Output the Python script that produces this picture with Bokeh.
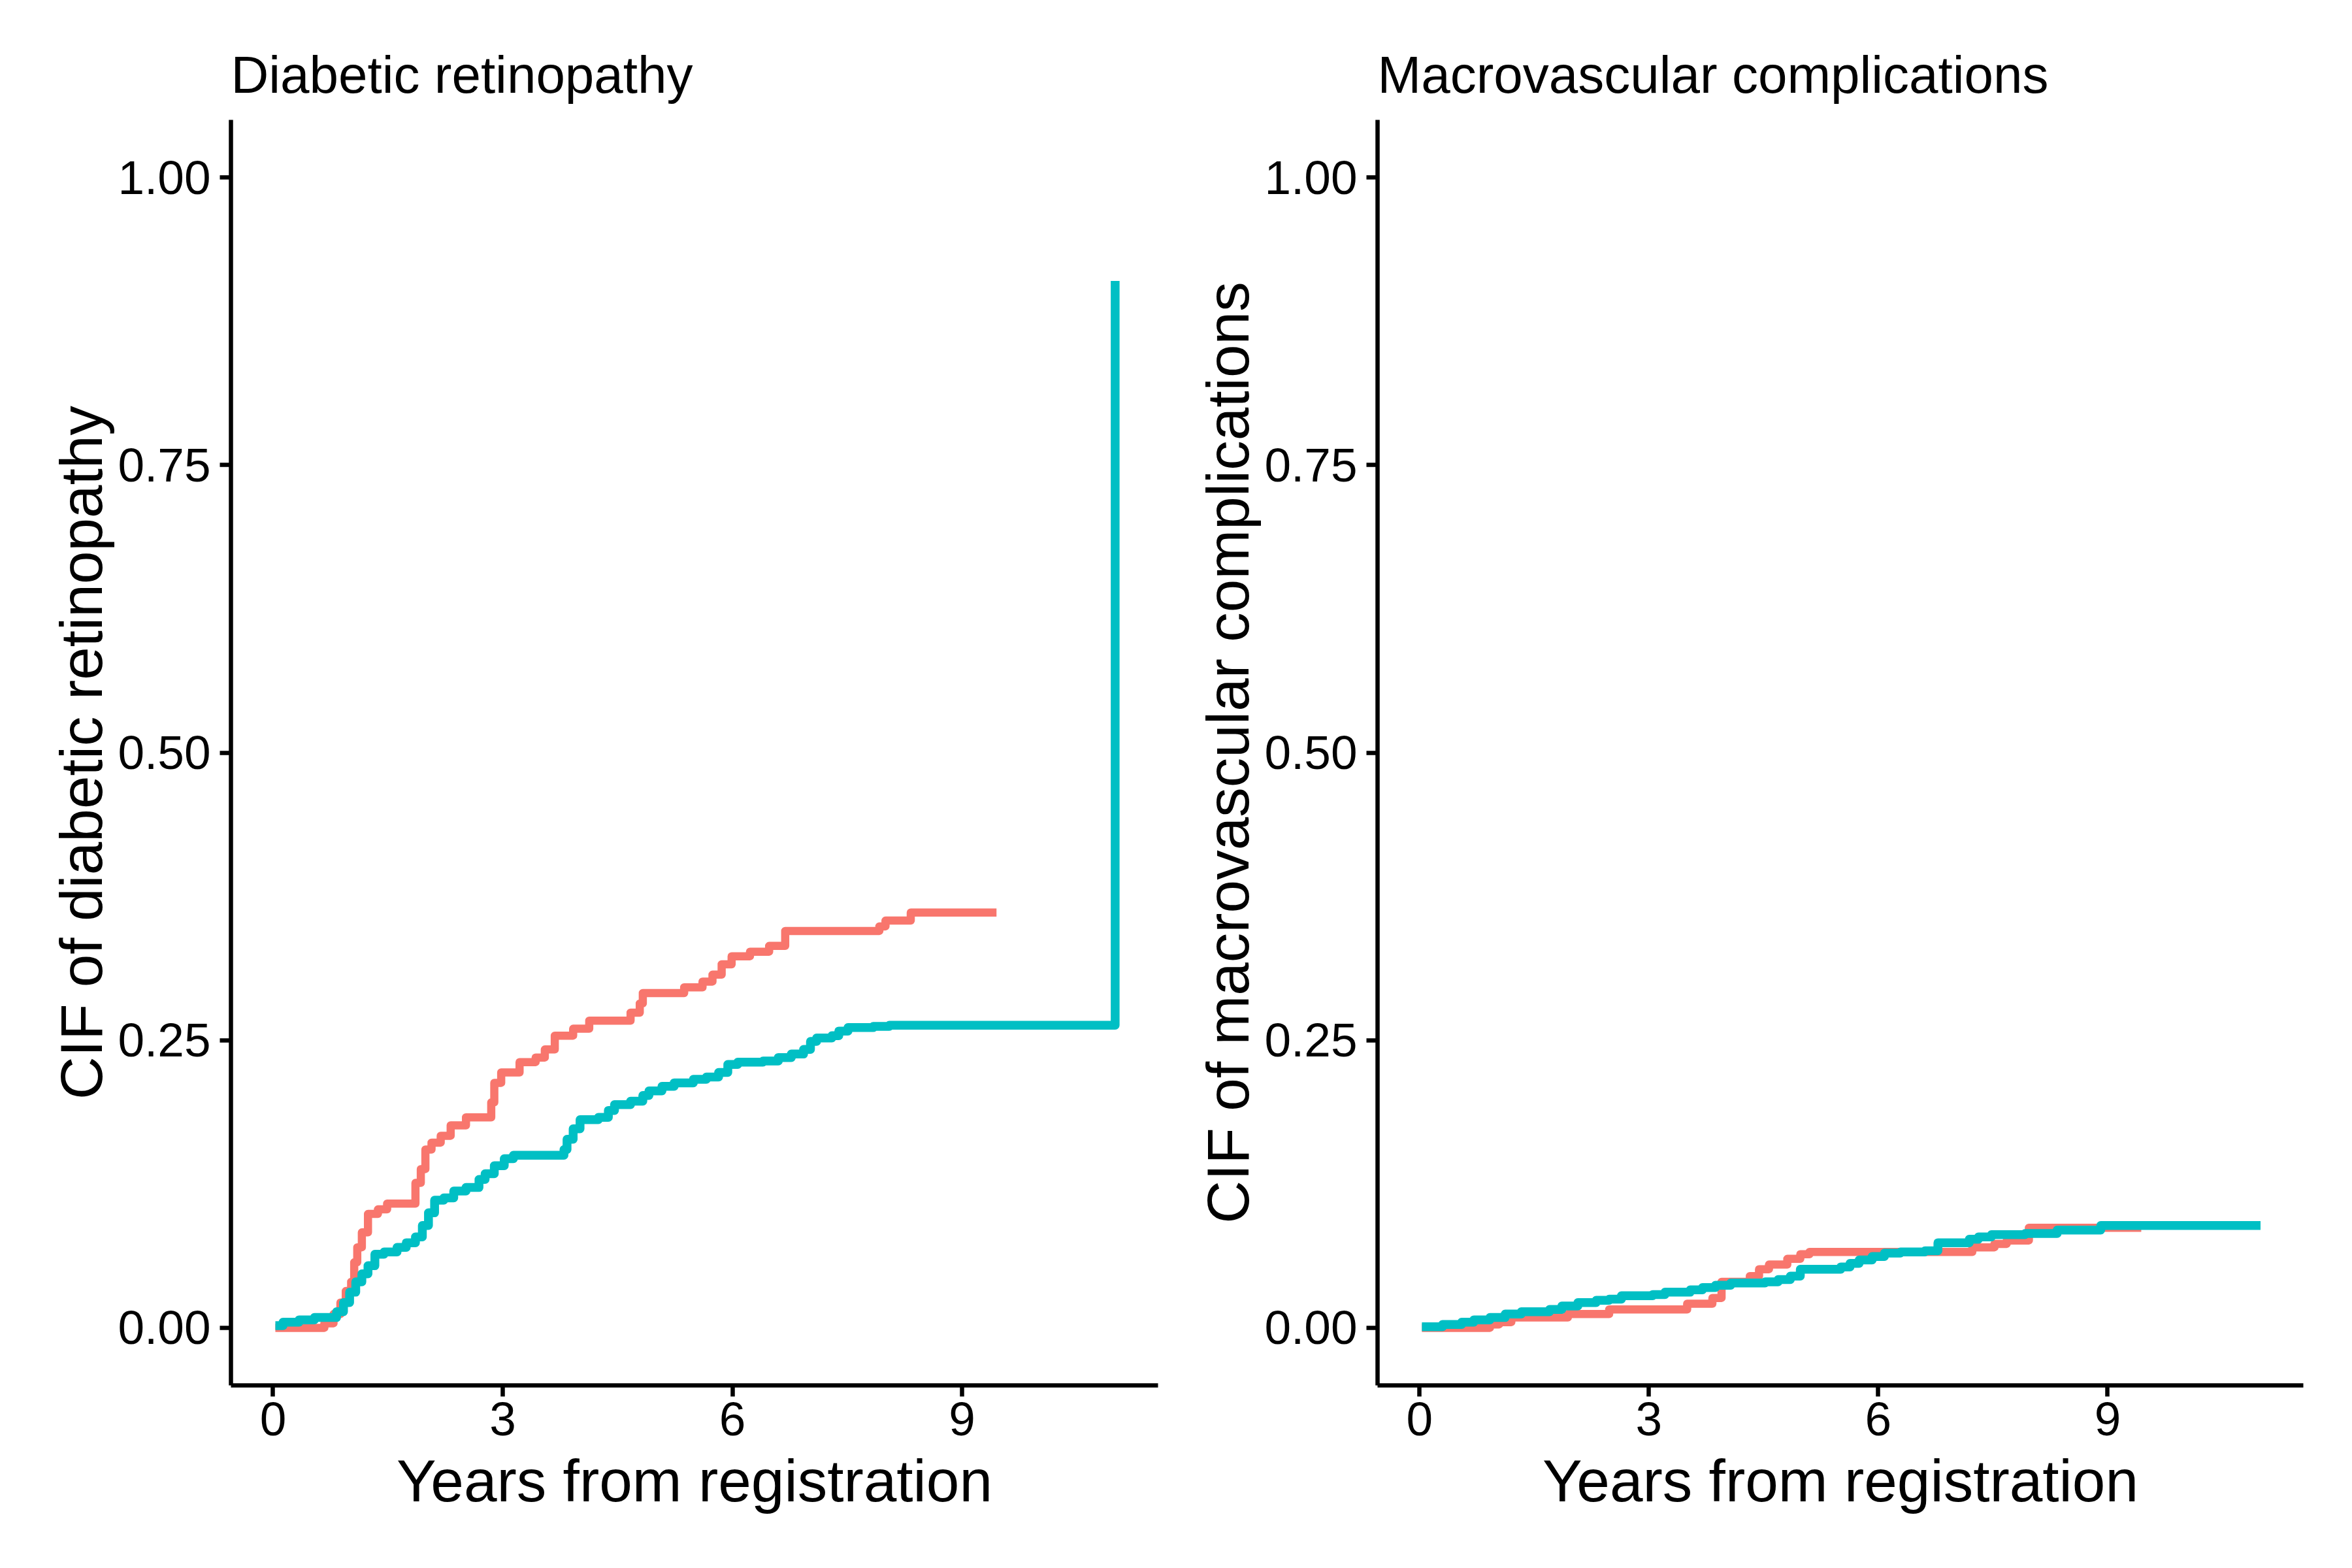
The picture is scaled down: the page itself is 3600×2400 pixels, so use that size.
from bokeh.plotting import figure
from bokeh.layouts import row
from bokeh.models import Range1d, FixedTicker, NumeralTickFormatter
from bokeh.embed import file_html
from bokeh.resources import INLINE

# ---------------- data ----------------
panel_titles = ["Diabetic retinopathy", "Macrovascular complications"]
y_titles = ["CIF of diabetic retinopathy", "CIF of macrovascular complications"]
x_title = "Years from registration"
x_ticks = [0, 3, 6, 9]
y_ticks = [0.0, 0.25, 0.5, 0.75, 1.0]
group_colors = ["#F8766D", "#00BFC4"]

# Diabetic retinopathy, group 1 (red)
dr_red_t = [0.03, 0.67, 0.79, 0.88, 0.95, 1.02, 1.06, 1.10, 1.16, 1.24,
            1.37, 1.49, 1.86, 1.93, 1.99, 2.07, 2.19, 2.32, 2.52, 2.85,
            2.89, 2.98, 3.22, 3.43, 3.55, 3.68, 3.92, 4.13, 4.67, 4.79,
            4.83, 5.37, 5.61, 5.74, 5.86, 5.99, 6.23, 6.48, 6.69, 7.92,
            8.00, 8.33, 9.45]
dr_red_y = [0.000, 0.004, 0.012, 0.022, 0.032, 0.040, 0.057, 0.070, 0.083, 0.099,
            0.103, 0.108, 0.126, 0.138, 0.155, 0.161, 0.167, 0.176, 0.183, 0.196,
            0.213, 0.222, 0.231, 0.235, 0.242, 0.254, 0.260, 0.267, 0.274, 0.282,
            0.291, 0.296, 0.301, 0.307, 0.316, 0.323, 0.327, 0.332, 0.345, 0.349,
            0.354, 0.361, 0.361]

# Diabetic retinopathy, group 2 (teal)
dr_teal_t = [0.03, 0.13, 0.34, 0.54, 0.83, 0.92, 1.00, 1.08, 1.16, 1.24,
             1.33, 1.45, 1.62, 1.74, 1.86, 1.95, 2.03, 2.11, 2.23, 2.36,
             2.52, 2.69, 2.77, 2.89, 3.02, 3.14, 3.80, 3.84, 3.92, 4.01,
             4.25, 4.38, 4.46, 4.67, 4.83, 4.91, 5.08, 5.24, 5.49, 5.66,
             5.82, 5.94, 6.07, 6.40, 6.60, 6.77, 6.93, 7.02, 7.10, 7.30,
             7.39, 7.51, 7.84, 8.05, 11.0]
dr_teal_y = [0.002, 0.005, 0.007, 0.009, 0.014, 0.022, 0.031, 0.040, 0.047, 0.054,
             0.064, 0.066, 0.070, 0.074, 0.079, 0.089, 0.100, 0.111, 0.113, 0.119,
             0.122, 0.129, 0.134, 0.141, 0.147, 0.150, 0.155, 0.164, 0.173, 0.181,
             0.183, 0.189, 0.194, 0.197, 0.202, 0.206, 0.210, 0.213, 0.216, 0.218,
             0.222, 0.229, 0.231, 0.232, 0.235, 0.238, 0.242, 0.249, 0.252, 0.254,
             0.258, 0.261, 0.262, 0.263, 0.910]

# Macrovascular complications, group 1 (red)
mv_red_t = [0.03, 0.92, 1.04, 1.20, 1.94, 2.48, 3.50, 3.83, 3.95, 4.32,
            4.44, 4.57, 4.81, 4.98, 5.10, 7.23, 7.52, 7.68, 7.97, 9.44]
mv_red_y = [0.000, 0.003, 0.005, 0.009, 0.012, 0.016, 0.021, 0.026, 0.040, 0.045,
            0.051, 0.055, 0.060, 0.064, 0.066, 0.070, 0.073, 0.076, 0.087, 0.087]

# Macrovascular complications, group 2 (teal)
mv_teal_t = [0.03, 0.30, 0.55, 0.71, 0.92, 1.12, 1.33, 1.70, 1.86, 2.07,
             2.31, 2.48, 2.64, 3.05, 3.21, 3.54, 3.70, 3.87, 4.07, 4.52,
             4.69, 4.85, 4.98, 5.51, 5.63, 5.75, 5.92, 6.08, 6.29, 6.61,
             6.78, 7.19, 7.31, 7.48, 7.92, 8.34, 8.91, 11.0]
mv_teal_y = [0.001, 0.003, 0.005, 0.007, 0.009, 0.012, 0.014, 0.016, 0.019, 0.022,
             0.024, 0.025, 0.028, 0.029, 0.031, 0.033, 0.035, 0.037, 0.039, 0.040,
             0.042, 0.045, 0.051, 0.053, 0.056, 0.059, 0.062, 0.065, 0.066, 0.067,
             0.074, 0.077, 0.079, 0.081, 0.082, 0.085, 0.089, 0.089]

FONT = "Liberation Sans"


def make_panel(title, ytitle, series, border_left, border_right):
    p = figure(width=1792, height=2384, output_backend="svg", toolbar_location=None,
               x_range=Range1d(-0.55, 11.56), y_range=Range1d(-0.05, 1.05),
               min_border_left=border_left, min_border_right=border_right,
               min_border_top=183, min_border_bottom=264)
    p.outline_line_color = None
    p.grid.visible = False
    p.background_fill_color = "white"
    p.border_fill_color = "white"

    p.title.text = title
    p.title.text_font = FONT
    p.title.text_font_size = "80px"
    p.title.text_font_style = "normal"
    p.title.text_color = "black"
    p.title.align = "left"
    p.title.standoff = 50

    for ax in (p.xaxis[0], p.yaxis[0]):
        ax.axis_line_color = "black"
        ax.axis_line_width = 6.5
        ax.major_tick_line_color = "black"
        ax.major_tick_line_width = 6.5
        ax.major_tick_out = 17
        ax.major_tick_in = 0
        ax.minor_tick_line_color = None
        ax.major_label_text_font = FONT
        ax.major_label_text_font_size = "73px"
        ax.major_label_text_color = "black"
        ax.axis_label_text_font = FONT
        ax.axis_label_text_font_size = "91px"
        ax.axis_label_text_font_style = "normal"
        ax.axis_label_text_color = "black"

    p.xaxis.ticker = FixedTicker(ticks=x_ticks)
    p.yaxis.ticker = FixedTicker(ticks=y_ticks)
    p.yaxis.formatter = NumeralTickFormatter(format="0.00")
    p.xaxis.axis_label = x_title
    p.yaxis.axis_label = ytitle
    p.xaxis.major_label_standoff = 9
    p.yaxis.major_label_standoff = 14
    p.xaxis.axis_label_standoff = 16
    p.yaxis.axis_label_standoff = 2

    for (t, y), color, lw in zip(series, group_colors, [12.5, 13.5]):
        p.step(t, y, mode="after", line_color=color, line_width=lw,
               line_join="round")
    return p


p1 = make_panel(panel_titles[0], y_titles[0],
                [(dr_red_t, dr_red_y), (dr_teal_t, dr_teal_y)], 353, 20)
p2 = make_panel(panel_titles[1], y_titles[1],
                [(mv_red_t, mv_red_y), (mv_teal_t, mv_teal_y)], 316, 59)

layout = row(p1, p2)
open("out.html", "w").write(file_html(layout, INLINE))
